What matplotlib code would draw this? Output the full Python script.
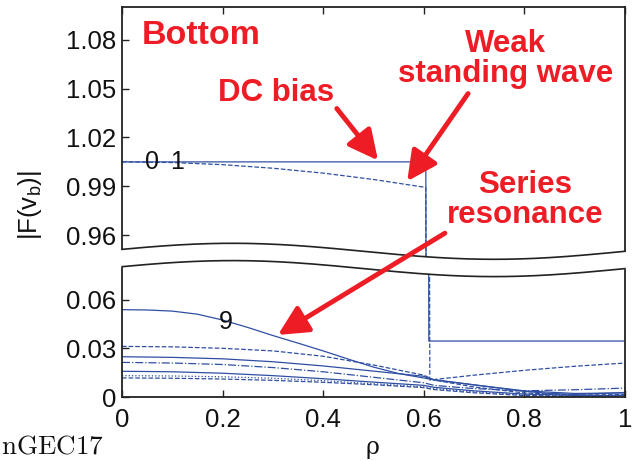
import matplotlib
matplotlib.use('Agg')
import matplotlib.pyplot as plt
import numpy as np

plt.rcParams['font.family'] = ['Liberation Sans', 'DejaVu Sans']
plt.rcParams['mathtext.fontset'] = 'custom'
plt.rcParams['mathtext.rm'] = 'Liberation Sans'
plt.rcParams['mathtext.it'] = 'Liberation Sans'

# curve 0 : DC bias step (solid)
rho0 = [0, 0.2, 0.4, 0.604, 0.61, 0.8, 1.0]
f0 = [1.005, 1.005, 1.005, 1.005, 0.0346, 0.0346, 0.0346]
# curve 1 : weak standing wave (dashed)
rho1 = [0, 0.1, 0.2, 0.3, 0.4, 0.5, 0.604, 0.612, 0.7, 0.8, 0.9, 1.0]
f1 = [1.005, 1.0046, 1.0033, 1.0011, 0.9981, 0.9942, 0.9893, 0.0105, 0.0135, 0.0165, 0.019, 0.021]
# curve 9 : series resonance (solid)
rho9 = [0, 0.05, 0.1, 0.15, 0.2, 0.25, 0.3, 0.35, 0.4, 0.45, 0.5, 0.55, 0.61,
        0.7, 0.8, 0.85, 0.9, 1.0]
f9 = [0.054, 0.0538, 0.0531, 0.0512, 0.0476, 0.0430, 0.0380, 0.0333, 0.0285,
      0.0234, 0.0185, 0.0145, 0.0112, 0.0075, 0.0035, 0.0022, 0.0016, 0.0028]

# remaining low-amplitude curves
rho_lo = [0, 0.1, 0.2, 0.3, 0.4, 0.5, 0.6, 0.62, 0.7, 0.8, 0.9, 1.0]
f2 = [0.0313, 0.031, 0.0301, 0.0285, 0.0252, 0.0198, 0.0135, 0.0105, 0.0062, 0.0025, 0.0012, 0.0015]
f3 = [0.0249, 0.0245, 0.0236, 0.0218, 0.0192, 0.016, 0.0128, 0.0105, 0.0075, 0.0038, 0.0022, 0.0025]
f4 = [0.0214, 0.021, 0.0201, 0.0182, 0.0156, 0.0122, 0.0088, 0.0072, 0.0052, 0.0038, 0.0045, 0.0055]
f5 = [0.0159, 0.0156, 0.0147, 0.0132, 0.0113, 0.0092, 0.0072, 0.006, 0.0038, 0.0018, 0.001, 0.001]
f6 = [0.0132, 0.013, 0.0125, 0.0116, 0.0101, 0.0082, 0.0063, 0.0052, 0.0032, 0.0012, 0.0006, 0.0006]
f7 = [0.0118, 0.0116, 0.0111, 0.0103, 0.0091, 0.0076, 0.0058, 0.0046, 0.0026, 0.0009, 0.0005, 0.001]

blue = '#2f4fa3'
red = '#ee1c25'

fig = plt.figure(figsize=(6.39, 4.61), dpi=100)
L, W = 122/639, 503/639
ax_top = fig.add_axes([L, 1-260/461, W, (260-7)/461])
ax_bot = fig.add_axes([L, 1-397/461, W, (397-260)/461])

curves = [(rho0, f0, '-'), (rho1, f1, '--'), (rho9, f9, '-'),
          (rho_lo, f2, '--'), (rho_lo, f3, '-'), (rho_lo, f4, '-.'),
          (rho_lo, f5, '-'), (rho_lo, f6, ':'), (rho_lo, f7, '--')]
for ax in (ax_top, ax_bot):
    for r, f, ls in curves:
        ax.plot(r, f, ls, color=blue, lw=0.9)
    ax.set_xlim(0, 1)
    for s in ax.spines.values():
        s.set_linewidth(1.3)
        s.set_color('#222222')
    ax.tick_params(direction='in', length=5, width=1, labelsize=18.5, pad=4,
                   colors='#222222', labelcolor='#111111')

ax_top.set_ylim(0.9447, 1.1002)
ax_top.set_yticks([0.96, 0.99, 1.02, 1.05, 1.08])
ax_top.spines['bottom'].set_visible(False)
ax_top.xaxis.tick_top()
ax_top.set_xticks([0, 0.2, 0.4, 0.6, 0.8, 1.0])
ax_top.tick_params(axis='x', labeltop=False)

ax_bot.set_ylim(0, 0.0847)
ax_bot.set_yticks([0, 0.03, 0.06])
ax_bot.set_yticklabels(['0', '0.03', '0.06'])
ax_bot.spines['top'].set_visible(False)
ax_bot.set_xticks([0, 0.2, 0.4, 0.6, 0.8, 1.0])
ax_bot.set_xticklabels(['0', '0.2', '0.4', '0.6', '0.8', '1'])
ax_bot.tick_params(axis='x', pad=8)

# curve labels
ax_top.text(0.06, 1.0047, '0', fontsize=18, ha='center', va='center', color='#111111')
ax_top.text(0.109, 1.0047, '1', fontsize=18, ha='center', va='center', color='#111111')
ax_bot.text(0.207, 0.0464, '9', fontsize=18, ha='center', va='center', color='#111111')

# annotations text
ax_top.text(0.04, 1.0824, 'Bottom', fontsize=24.5, fontweight='bold', color=red,
            ha='left', va='center')
ax_top.text(0.306, 1.0476, 'DC bias', fontsize=22.5, fontweight='bold', color=red,
            ha='center', va='center')
ax_top.text(0.763, 1.0685, 'Weak\nstanding wave', fontsize=22.5, fontweight='bold',
            color=red, ha='center', va='center', linespacing=1.0)
ax_top.text(0.801, 0.9814, 'Series\nresonance', fontsize=22.5, fontweight='bold',
            color=red, ha='center', va='center', linespacing=1.0)

# axis break band (drawn in figure pixel space, on top of both axes)
ov = fig.add_axes([0, 0, 1, 1], facecolor='none')
ov.set_xlim(0, 639)
ov.set_ylim(461, 0)
ov.axis('off')
rr = np.linspace(-0.01, 1.01, 200)
upper = 251.3 - 8 * np.cos(2 * np.pi * (rr - 0.22) / 1.04)
lower = upper + 17.3
px = 122 + 503 * rr
ov.fill_between(px, upper, lower, color='white', lw=0, zorder=1)
inside = (rr >= 0) & (rr <= 1)
ov.plot(px[inside], upper[inside], color='#222222', lw=1.2, zorder=2)
ov.plot(px[inside], lower[inside], color='#222222', lw=1.2, zorder=2)

# arrows (on the overlay so they cross the break)
aprops = dict(arrowstyle='-|>,head_length=0.9,head_width=0.45', color=red, lw=3.5,
              shrinkA=0, shrinkB=0, mutation_scale=20)
ov.annotate('', xy=(0.509, 1.0059), xycoords=ax_top.transData,
            xytext=(0.427, 1.0378), textcoords=ax_top.transData,
            arrowprops=aprops, zorder=5, annotation_clip=False)
ov.annotate('', xy=(0.567, 0.9931), xycoords=ax_top.transData,
            xytext=(0.688, 1.047), textcoords=ax_top.transData,
            arrowprops=aprops, zorder=5, annotation_clip=False)
ov.annotate('', xy=(0.310, 0.0384), xycoords=ax_bot.transData,
            xytext=(0.642, 0.9612), textcoords=ax_top.transData,
            arrowprops=aprops, zorder=5, annotation_clip=False)

# axis labels
fig.text(30/639, 1-205/461, r'$|\mathrm{F}(\mathrm{v}_\mathrm{b})|$', rotation=90,
         fontsize=18.5, ha='center', va='center', color='#111111')
fig.text(372/639, 1-447/461, 'ρ', fontsize=17, family='DejaVu Serif',
         ha='center', va='center', color='#111111')
fig.text(104/639, 1-446/461, r'$\mathrm{nGEC17}$', math_fontfamily='cm',
         fontsize=19.5, ha='right', va='center', color='#111111')

fig.savefig('out.png', dpi=100)
